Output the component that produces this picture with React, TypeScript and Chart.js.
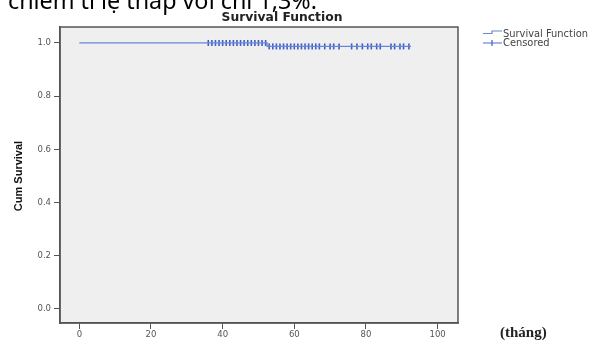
import React, { useEffect, useRef } from "react";
import { Chart, registerables } from "chart.js";

Chart.register(...registerables);

// Survival function (Kaplan-Meier step)
const survTimes = [0, 52.4, 92.6];
const survValues = [1.0, 0.987, 0.987];

// Censored observations
const censTimes = [
  36, 37, 38, 39, 40, 41, 42, 43, 44, 45, 46, 47, 48, 49, 50, 51, 52,
  53, 54, 55, 56, 57, 58, 59, 60, 61, 62, 63, 64, 65, 66, 67, 68.5, 70, 71, 72.5,
  76, 77.5,
  79, 80.5, 81.5, 83, 84,
  87, 88, 89.5, 90.5, 92,
];
const censValues = censTimes.map((t) => (t < 52.4 ? 1.0 : 0.987));

const xTickValues = [0, 20, 40, 60, 80, 100];
const yTickValues = [0, 0.2, 0.4, 0.6, 0.8, 1.0];

const chartTitle = "Survival Function";
const yAxisTitle = "Cum Survival";
const xAxisUnit = "(tháng)";
const captionText = "chiếm tỉ lệ thấp với chỉ 1,3%.";
const legendLabels = ["Survival Function", "Censored"];

const LINE_COLOR = "#6a86d6";
const MARK_COLOR = "#3d5cc6";
const AXIS_COLOR = "#555555";

function fitFont(ctx: any, text: string, style: string, family: string, target: number) {
  ctx.font = `${style} 100px ${family}`;
  const w = ctx.measureText(text).width;
  const size = (100 * target) / w;
  ctx.font = `${style} ${size}px ${family}`;
}

const decorPlugin = {
  id: "decor",
  beforeDraw(chart: any) {
    const { ctx, chartArea: a } = chart;
    ctx.save();
    ctx.fillStyle = "#ffffff";
    ctx.fillRect(0, 0, chart.width, chart.height);
    ctx.fillStyle = "#efefef";
    ctx.fillRect(a.left, a.top, a.right - a.left, a.bottom - a.top);
    ctx.restore();
  },
  afterDraw(chart: any) {
    const { ctx, chartArea: a } = chart;
    ctx.save();
    // box
    ctx.strokeStyle = AXIS_COLOR;
    ctx.lineWidth = 1.5;
    ctx.strokeRect(a.left, a.top, a.right - a.left, a.bottom - a.top);

    // caption (cropped at top)
    fitFont(ctx, captionText, "normal", "'Noto Sans', sans-serif", 309);
    ctx.fillStyle = "#000000";
    ctx.textAlign = "left";
    ctx.textBaseline = "alphabetic";
    ctx.fillText(captionText, 8, 8.5);

    // title
    fitFont(ctx, chartTitle, "bold", "'DejaVu Sans', sans-serif", 121);
    ctx.fillStyle = "#222222";
    ctx.textAlign = "center";
    ctx.textBaseline = "middle";
    ctx.fillText(chartTitle, 282, 18);

    // y axis title
    ctx.save();
    ctx.translate(19, 176);
    ctx.rotate(-Math.PI / 2);
    ctx.font = "bold 11px 'Liberation Sans Narrow', 'Liberation Sans', Arial, sans-serif";
    ctx.fillStyle = "#111111";
    ctx.textAlign = "center";
    ctx.textBaseline = "middle";
    ctx.fillText(yAxisTitle, 0, 0);
    ctx.restore();

    // x unit
    ctx.font = "bold 15px 'Liberation Serif', serif";
    ctx.fillStyle = "#222222";
    ctx.textAlign = "left";
    ctx.textBaseline = "middle";
    ctx.fillText(xAxisUnit, 500, 333);

    // legend
    ctx.lineWidth = 1.2;
    ctx.strokeStyle = LINE_COLOR;
    ctx.beginPath();
    ctx.moveTo(483, 33.5);
    ctx.lineTo(492, 33.5);
    ctx.lineTo(492, 31);
    ctx.lineTo(502, 31);
    ctx.stroke();
    ctx.beginPath();
    ctx.moveTo(483, 43);
    ctx.lineTo(502, 43);
    ctx.stroke();
    ctx.strokeStyle = MARK_COLOR;
    ctx.beginPath();
    ctx.moveTo(492, 40);
    ctx.lineTo(492, 46);
    ctx.stroke();
    fitFont(ctx, legendLabels[0], "normal", "'DejaVu Sans', sans-serif", 85);
    ctx.fillStyle = "#444444";
    ctx.textAlign = "left";
    ctx.textBaseline = "middle";
    ctx.fillText(legendLabels[0], 503, 34);
    ctx.fillText(legendLabels[1], 503, 43.5);
    ctx.restore();
  },
};

export default function App() {
  const canvasRef = useRef<HTMLCanvasElement | null>(null);

  useEffect(() => {
    document.body.style.margin = "0";
    const canvas = canvasRef.current;
    if (!canvas) return;
    const tickFont = { family: "'DejaVu Sans', sans-serif", size: 8.5 };
    const chart = new Chart(canvas, {
      type: "line",
      data: {
        datasets: [
          {
            label: legendLabels[0],
            data: survTimes.map((t, i) => ({ x: t, y: survValues[i] })),
            stepped: "before",
            borderColor: LINE_COLOR,
            borderWidth: 1.3,
            pointRadius: 0,
            fill: false,
          },
          {
            type: "scatter",
            label: legendLabels[1],
            data: censTimes.map((t, i) => ({ x: t, y: censValues[i] })),
            pointStyle: "line",
            rotation: 90,
            pointRadius: 3,
            borderColor: MARK_COLOR,
            backgroundColor: MARK_COLOR,
            borderWidth: 1.6,
            showLine: false,
          } as any,
        ],
      },
      options: {
        responsive: false,
        animation: false,
        devicePixelRatio: 1,
        layout: { padding: { left: 0, top: 27, right: 132, bottom: 0 } },
        plugins: {
          legend: { display: false },
          title: { display: false },
          tooltip: { enabled: false },
        },
        scales: {
          x: {
            type: "linear",
            min: -5.4,
            max: 105.7,
            afterBuildTicks: (s: any) => {
              s.ticks = xTickValues.map((v) => ({ value: v }));
            },
            afterFit: (s: any) => {
              s.height = 18;
            },
            grid: { drawOnChartArea: false, drawTicks: true, tickLength: 6, color: AXIS_COLOR, lineWidth: 1 },
            border: { display: true, color: AXIS_COLOR, width: 1.5 },
            ticks: {
              autoSkip: false,
              maxRotation: 0,
              padding: 1,
              color: "#555555",
              font: tickFont,
              callback: (v: any) => String(v),
            },
          },
          y: {
            type: "linear",
            min: -0.053,
            max: 1.06,
            afterBuildTicks: (s: any) => {
              s.ticks = yTickValues.map((v) => ({ value: v }));
            },
            afterFit: (s: any) => {
              s.width = 60;
            },
            grid: { drawOnChartArea: false, drawTicks: true, tickLength: 6, color: AXIS_COLOR, lineWidth: 1 },
            border: { display: true, color: AXIS_COLOR, width: 1.5 },
            ticks: {
              padding: 3,
              color: "#555555",
              font: tickFont,
              callback: (v: any) => Number(v).toFixed(1),
            },
          },
        },
      },
      plugins: [decorPlugin],
    });
    return () => chart.destroy();
  }, []);

  return (
    <div style={{ position: "absolute", left: 0, top: 0, width: 590, height: 341 }}>
      <canvas ref={canvasRef} width={590} height={341} style={{ width: 590, height: 341 }} />
    </div>
  );
}
